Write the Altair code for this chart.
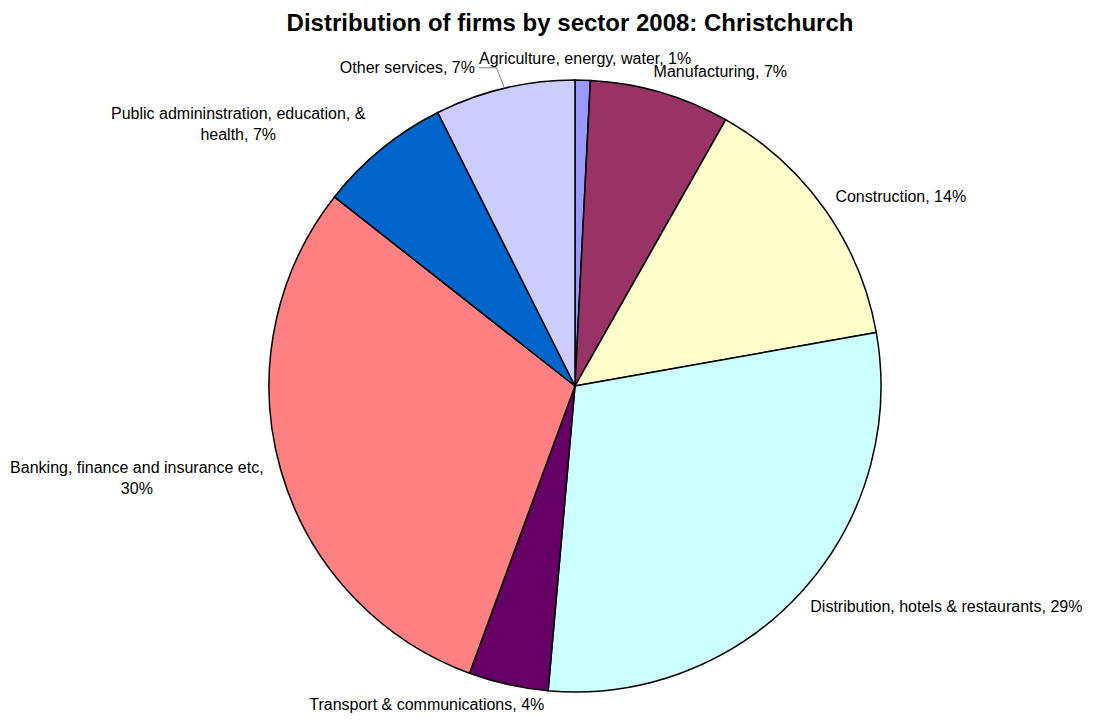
import altair as alt
import pandas as pd

# ---- data ----
sectors = [
    "Agriculture, energy, water",
    "Manufacturing",
    "Construction",
    "Distribution, hotels & restaurants",
    "Transport & communications",
    "Banking, finance and insurance etc",
    "Public admininstration, education, & health",
    "Other services",
]
shares = [0.8, 7.4, 14.0, 29.2, 4.2, 30.0, 7.0, 7.4]
labels = [
    "Agriculture, energy, water, 1%",
    "Manufacturing, 7%",
    "Construction, 14%",
    "Distribution, hotels & restaurants, 29%",
    "Transport & communications, 4%",
    "Banking, finance and insurance etc,\n30%",
    "Public admininstration, education, &\nhealth, 7%",
    "Other services, 7%",
]
colors = ["#9999FF", "#993366", "#FFFFCC", "#CCFFFF", "#660066",
          "#FF8080", "#0066CC", "#CCCCFF"]

df = pd.DataFrame({
    "idx": list(range(len(sectors))),
    "sector": sectors,
    "value": shares,
    "label": labels,
    "nl": [len(l.split("\n")) for l in labels],
    "maxc": [max(len(p) for p in l.split("\n")) for l in labels],
})

# ---- layout constants ----
CX, CY, R = 567, 338, 306
LR = R + 13          # label anchor radius
FONT = "Liberation Sans"
FS = 16
LH = 21
CW = 7.5             # estimated average character width at 16px

base = alt.Chart(df).transform_window(
    cum="sum(value)", sort=[alt.SortField("idx")]
).transform_joinaggregate(
    total="sum(value)"
).transform_calculate(
    a="2*PI*(datum.cum - datum.value/2)/datum.total"
).transform_calculate(
    sn="sin(datum.a)",
    cs="cos(datum.a)",
    w=f"datum.maxc*{CW}",
).transform_calculate(
    ax=f"{CX} + {LR}*datum.sn",
    ay=f"{CY} - {LR}*datum.cs",
    rx=f"{CX} + {R}*datum.sn",
    ry=f"{CY} - {R}*datum.cs",
    h=f"(datum.nl - 1)*{LH} + {FS}",
    f="min(1, 3*abs(datum.sn))",
).transform_calculate(
    ly="datum.ay - datum.h*(1 + datum.cs)/2",
    lx0=("datum.nl > 1 ? datum.ax + (datum.sn >= 0 ? 1 : -1)*datum.w/2*datum.f"
         " : (datum.sn >= 0 ? datum.ax - datum.w/2*(1 - datum.f)"
         " : datum.ax + datum.w/2*(1 - datum.f))"),
).transform_calculate(
    le="abs(datum.sn) < 0.1 ? (datum.sn >= 0 ? datum.lx0 : datum.lx0 - datum.w) : 99999",
).transform_joinaggregate(
    topLeft="min(le)"
).transform_calculate(
    lx=("(datum.nl == 1 && datum.sn < -0.1 && datum.cs > 0.9)"
        " ? min(datum.lx0, datum.topLeft - 4) : datum.lx0"),
).transform_calculate(
    moved="datum.lx < datum.lx0 - 1 ? 1 : 0",
    lmid="datum.ly + 8",
)

arcs = alt.Chart(df).mark_arc(
    outerRadius=R, stroke="black", strokeWidth=1.5
).encode(
    theta=alt.Theta("value:Q", stack=True),
    color=alt.Color("sector:N", scale=alt.Scale(domain=sectors, range=colors), legend=None),
    order=alt.Order("idx:Q"),
    x=alt.value(CX),
    y=alt.value(CY),
)


def text_layer(filt, align):
    return base.transform_filter(filt).mark_text(
        align=align, baseline="top", font=FONT, fontSize=FS,
        lineBreak="\n", lineHeight=LH, color="black"
    ).encode(
        x=alt.X("lx:Q", scale=None, axis=None),
        y=alt.Y("ly:Q", scale=None, axis=None),
        text="label:N",
    )


t_right = text_layer("datum.nl == 1 && datum.sn >= 0", "left")
t_left = text_layer("datum.nl == 1 && datum.sn < 0", "right")
t_multi = text_layer("datum.nl > 1", "center")

moved = base.transform_filter("datum.moved == 1").transform_calculate(
    ex="datum.rx - 8", sx="datum.lx + 4"
)
lead1 = moved.mark_rule(color="#808080", strokeWidth=1).encode(
    x=alt.X("sx:Q", scale=None, axis=None),
    x2="ex:Q",
    y=alt.Y("lmid:Q", scale=None, axis=None),
    y2="lmid:Q",
)
lead2 = moved.mark_rule(color="#808080", strokeWidth=1).encode(
    x=alt.X("ex:Q", scale=None, axis=None),
    x2="rx:Q",
    y=alt.Y("lmid:Q", scale=None, axis=None),
    y2="ry:Q",
)

chart = alt.layer(arcs, lead1, lead2, t_right, t_left, t_multi).properties(
    width=1080,
    height=666,
    padding={"left": 0, "top": 40, "right": 0, "bottom": 0},
    autosize=alt.AutoSizeParams(type="none"),
    title=alt.Title(
        "Distribution of firms by sector 2008: Christchurch",
        fontSize=24, fontWeight="bold", font=FONT, anchor="middle",
        dx=22, dy=26, offset=14, baseline="bottom", color="black",
    ),
).configure_view(stroke=None)

chart.save("out.html", embed_options={"renderer": "svg", "actions": False})
